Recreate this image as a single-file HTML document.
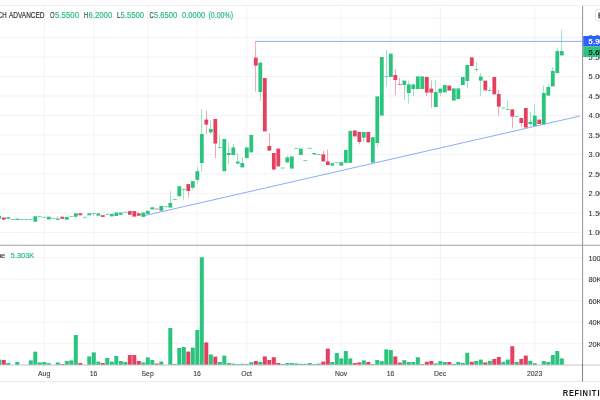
<!DOCTYPE html>
<html lang="en"><head><meta charset="utf-8"><title>Chart</title>
<style>html,body{margin:0;padding:0;background:#fff;overflow:hidden}svg{display:block}text{font-family:"Liberation Sans",Arial,sans-serif}</style>
</head><body>
<svg width="600" height="400" viewBox="0 0 600 400">
<defs><filter id="sb" x="-2%" y="-2%" width="104%" height="104%"><feGaussianBlur stdDeviation="0.32"/></filter></defs>
<rect width="600" height="400" fill="#fff"/>
<g stroke="#f3f3f5" stroke-width="1" fill="none">
<line x1="44.3" y1="6" x2="44.3" y2="365"/>
<line x1="93.8" y1="6" x2="93.8" y2="365"/>
<line x1="147.8" y1="6" x2="147.8" y2="365"/>
<line x1="197.3" y1="6" x2="197.3" y2="365"/>
<line x1="246.8" y1="6" x2="246.8" y2="365"/>
<line x1="341.3" y1="6" x2="341.3" y2="365"/>
<line x1="390.8" y1="6" x2="390.8" y2="365"/>
<line x1="440.3" y1="6" x2="440.3" y2="365"/>
<line x1="534.8" y1="6" x2="534.8" y2="365"/>
<line x1="0" y1="232.5" x2="582" y2="232.5"/>
<line x1="0" y1="213" x2="582" y2="213"/>
<line x1="0" y1="193.5" x2="582" y2="193.5"/>
<line x1="0" y1="174" x2="582" y2="174"/>
<line x1="0" y1="154.5" x2="582" y2="154.5"/>
<line x1="0" y1="135" x2="582" y2="135"/>
<line x1="0" y1="115.5" x2="582" y2="115.5"/>
<line x1="0" y1="96" x2="582" y2="96"/>
<line x1="0" y1="76.5" x2="582" y2="76.5"/>
<line x1="0" y1="57" x2="582" y2="57"/>
<line x1="0" y1="37.5" x2="582" y2="37.5"/>
<line x1="0" y1="18" x2="582" y2="18"/>
<line x1="0" y1="257.75" x2="582" y2="257.75"/>
<line x1="0" y1="279.2" x2="582" y2="279.2"/>
<line x1="0" y1="300.7" x2="582" y2="300.7"/>
<line x1="0" y1="322.2" x2="582" y2="322.2"/>
<line x1="0" y1="343.7" x2="582" y2="343.7"/>
</g>
<line x1="0" y1="5.5" x2="600" y2="5.5" stroke="#eceef1" stroke-width="1"/>
<g stroke="#7ea3f8" stroke-width="0.9" fill="none">
<line x1="255.8" y1="41.4" x2="583" y2="41.4"/>
<line x1="144.5" y1="215.6" x2="580" y2="116"/>
</g>
<g filter="url(#sb)">
<rect x="-2.7" y="359.6" width="4" height="5.4" fill="#2cc47e"/>
<rect x="1.8" y="360" width="4" height="5" fill="#e4405e"/>
<rect x="6.3" y="363" width="4" height="2" fill="#2cc47e"/>
<rect x="15.3" y="362" width="4" height="3" fill="#2cc47e"/>
<rect x="28.8" y="360.4" width="4" height="4.6" fill="#2cc47e"/>
<rect x="33.3" y="351.6" width="4" height="13.4" fill="#2cc47e"/>
<rect x="37.8" y="362.4" width="4" height="2.6" fill="#2cc47e"/>
<rect x="42.3" y="362" width="4" height="3" fill="#2cc47e"/>
<rect x="46.8" y="363.2" width="4" height="1.8" fill="#2cc47e"/>
<rect x="55.8" y="362.4" width="4" height="2.6" fill="#2cc47e"/>
<rect x="60.3" y="364" width="4" height="1" fill="#e4405e"/>
<rect x="64.8" y="361" width="4" height="4" fill="#2cc47e"/>
<rect x="69.3" y="360.4" width="4" height="4.6" fill="#2cc47e"/>
<rect x="73.8" y="335" width="4" height="30" fill="#2cc47e"/>
<rect x="78.3" y="363" width="4" height="2" fill="#e4405e"/>
<rect x="87.3" y="356.4" width="4" height="8.6" fill="#2cc47e"/>
<rect x="91.8" y="352.4" width="4" height="12.6" fill="#2cc47e"/>
<rect x="96.3" y="361.6" width="4" height="3.4" fill="#2cc47e"/>
<rect x="100.8" y="363" width="4" height="2" fill="#e4405e"/>
<rect x="105.3" y="358" width="4" height="7" fill="#2cc47e"/>
<rect x="109.8" y="361.6" width="4" height="3.4" fill="#2cc47e"/>
<rect x="114.3" y="356" width="4" height="9" fill="#2cc47e"/>
<rect x="118.8" y="361" width="4" height="4" fill="#2cc47e"/>
<rect x="123.3" y="362" width="4" height="3" fill="#2cc47e"/>
<rect x="127.8" y="355" width="4" height="10" fill="#e4405e"/>
<rect x="132.3" y="355" width="4" height="10" fill="#e4405e"/>
<rect x="136.8" y="361" width="4" height="4" fill="#e4405e"/>
<rect x="141.3" y="362.4" width="4" height="2.6" fill="#2cc47e"/>
<rect x="145.8" y="357.4" width="4" height="7.6" fill="#2cc47e"/>
<rect x="150.3" y="360" width="4" height="5" fill="#2cc47e"/>
<rect x="154.8" y="363.6" width="4" height="1.4" fill="#e4405e"/>
<rect x="159.3" y="361.6" width="4" height="3.4" fill="#2cc47e"/>
<rect x="168.3" y="328" width="4" height="37" fill="#2cc47e"/>
<rect x="172.8" y="364" width="4" height="1" fill="#2cc47e"/>
<rect x="177.3" y="348" width="4" height="17" fill="#2cc47e"/>
<rect x="181.8" y="347" width="4" height="18" fill="#2cc47e"/>
<rect x="186.3" y="351.6" width="4" height="13.4" fill="#e4405e"/>
<rect x="190.8" y="347.6" width="4" height="17.4" fill="#2cc47e"/>
<rect x="195.3" y="330" width="4" height="35" fill="#2cc47e"/>
<rect x="199.8" y="257.25" width="4" height="107.75" fill="#2cc47e"/>
<rect x="204.3" y="342.4" width="4" height="22.6" fill="#e4405e"/>
<rect x="208.8" y="354.4" width="4" height="10.6" fill="#2cc47e"/>
<rect x="213.3" y="356.6" width="4" height="8.4" fill="#e4405e"/>
<rect x="217.8" y="362" width="4" height="3" fill="#2cc47e"/>
<rect x="222.3" y="355.6" width="4" height="9.4" fill="#2cc47e"/>
<rect x="226.8" y="363" width="4" height="2" fill="#2cc47e"/>
<rect x="231.3" y="363.6" width="4" height="1.4" fill="#2cc47e"/>
<rect x="235.8" y="364" width="4" height="1" fill="#2cc47e"/>
<rect x="240.3" y="363.8" width="4" height="1.2" fill="#2cc47e"/>
<rect x="244.8" y="364" width="4" height="1" fill="#2cc47e"/>
<rect x="249.3" y="362.2" width="4" height="2.8" fill="#2cc47e"/>
<rect x="253.8" y="361" width="4" height="4" fill="#e4405e"/>
<rect x="258.3" y="362" width="4" height="3" fill="#2cc47e"/>
<rect x="262.8" y="356.4" width="4" height="8.6" fill="#e4405e"/>
<rect x="267.3" y="360" width="4" height="5" fill="#e4405e"/>
<rect x="271.8" y="357.2" width="4" height="7.8" fill="#e4405e"/>
<rect x="276.3" y="363" width="4" height="2" fill="#e4405e"/>
<rect x="280.8" y="364" width="4" height="1" fill="#2cc47e"/>
<rect x="285.3" y="363" width="4" height="2" fill="#2cc47e"/>
<rect x="289.8" y="363" width="4" height="2" fill="#2cc47e"/>
<rect x="294.3" y="363.4" width="4" height="1.6" fill="#2cc47e"/>
<rect x="298.8" y="363.8" width="4" height="1.2" fill="#2cc47e"/>
<rect x="303.3" y="363.8" width="4" height="1.2" fill="#2cc47e"/>
<rect x="307.8" y="363" width="4" height="2" fill="#2cc47e"/>
<rect x="312.3" y="364" width="4" height="1" fill="#2cc47e"/>
<rect x="316.8" y="363.6" width="4" height="1.4" fill="#2cc47e"/>
<rect x="321.3" y="361.6" width="4" height="3.4" fill="#e4405e"/>
<rect x="325.8" y="348.6" width="4" height="16.4" fill="#e4405e"/>
<rect x="330.3" y="362" width="4" height="3" fill="#2cc47e"/>
<rect x="334.8" y="353" width="4" height="12" fill="#2cc47e"/>
<rect x="339.3" y="358.4" width="4" height="6.6" fill="#2cc47e"/>
<rect x="343.8" y="351" width="4" height="14" fill="#2cc47e"/>
<rect x="348.3" y="358.4" width="4" height="6.6" fill="#2cc47e"/>
<rect x="352.8" y="363" width="4" height="2" fill="#e4405e"/>
<rect x="357.3" y="362.4" width="4" height="2.6" fill="#e4405e"/>
<rect x="361.8" y="360.4" width="4" height="4.6" fill="#2cc47e"/>
<rect x="366.3" y="362" width="4" height="3" fill="#e4405e"/>
<rect x="370.8" y="364" width="4" height="1" fill="#2cc47e"/>
<rect x="375.3" y="360" width="4" height="5" fill="#2cc47e"/>
<rect x="379.8" y="361.2" width="4" height="3.8" fill="#2cc47e"/>
<rect x="384.3" y="349.4" width="4" height="15.6" fill="#2cc47e"/>
<rect x="388.8" y="350" width="4" height="15" fill="#2cc47e"/>
<rect x="393.3" y="356.4" width="4" height="8.6" fill="#e4405e"/>
<rect x="397.8" y="362.6" width="4" height="2.4" fill="#e4405e"/>
<rect x="402.3" y="360.2" width="4" height="4.8" fill="#2cc47e"/>
<rect x="406.8" y="362" width="4" height="3" fill="#2cc47e"/>
<rect x="411.3" y="362" width="4" height="3" fill="#2cc47e"/>
<rect x="415.8" y="357.2" width="4" height="7.8" fill="#2cc47e"/>
<rect x="420.3" y="364" width="4" height="1" fill="#2cc47e"/>
<rect x="424.8" y="361.8" width="4" height="3.2" fill="#e4405e"/>
<rect x="429.3" y="361" width="4" height="4" fill="#e4405e"/>
<rect x="433.8" y="363.4" width="4" height="1.6" fill="#2cc47e"/>
<rect x="438.3" y="361.2" width="4" height="3.8" fill="#2cc47e"/>
<rect x="442.8" y="362" width="4" height="3" fill="#2cc47e"/>
<rect x="447.3" y="362" width="4" height="3" fill="#e4405e"/>
<rect x="451.8" y="363.8" width="4" height="1.2" fill="#2cc47e"/>
<rect x="456.3" y="362" width="4" height="3" fill="#2cc47e"/>
<rect x="460.8" y="363" width="4" height="2" fill="#2cc47e"/>
<rect x="465.3" y="352.8" width="4" height="12.2" fill="#2cc47e"/>
<rect x="469.8" y="361.8" width="4" height="3.2" fill="#e4405e"/>
<rect x="474.3" y="361" width="4" height="4" fill="#2cc47e"/>
<rect x="478.8" y="359.6" width="4" height="5.4" fill="#2cc47e"/>
<rect x="483.3" y="362.4" width="4" height="2.6" fill="#e4405e"/>
<rect x="487.8" y="360.8" width="4" height="4.2" fill="#2cc47e"/>
<rect x="492.3" y="359" width="4" height="6" fill="#e4405e"/>
<rect x="496.8" y="357" width="4" height="8" fill="#e4405e"/>
<rect x="501.3" y="361.8" width="4" height="3.2" fill="#2cc47e"/>
<rect x="505.8" y="359.6" width="4" height="5.4" fill="#2cc47e"/>
<rect x="510.3" y="346.2" width="4" height="18.8" fill="#e4405e"/>
<rect x="514.8" y="362" width="4" height="3" fill="#2cc47e"/>
<rect x="519.3" y="359" width="4" height="6" fill="#e4405e"/>
<rect x="523.8" y="355.6" width="4" height="9.4" fill="#e4405e"/>
<rect x="528.3" y="360.8" width="4" height="4.2" fill="#2cc47e"/>
<rect x="532.8" y="363.2" width="4" height="1.8" fill="#2cc47e"/>
<rect x="541.8" y="361" width="4" height="4" fill="#2cc47e"/>
<rect x="546.3" y="362" width="4" height="3" fill="#2cc47e"/>
<rect x="550.8" y="355" width="4" height="10" fill="#2cc47e"/>
<rect x="555.3" y="351" width="4" height="14" fill="#2cc47e"/>
<rect x="559.8" y="358.4" width="4" height="6.6" fill="#2cc47e"/>
</g>
<g filter="url(#sb)">
<rect x="-2.6" y="215.8" width="3.8" height="2.9" fill="#2cc47e"/>
<rect x="1.9" y="217.5" width="3.8" height="2.2" fill="#e4405e"/>
<rect x="6.4" y="217.2" width="3.8" height="1.6" fill="#2cc47e"/>
<rect x="10.9" y="219.15" width="3.8" height="0.7" fill="#2cc47e"/>
<rect x="15.4" y="218.7" width="3.8" height="1.3" fill="#2cc47e"/>
<rect x="19.9" y="219.15" width="3.8" height="0.7" fill="#2cc47e"/>
<rect x="24.4" y="219.15" width="3.8" height="0.7" fill="#2cc47e"/>
<rect x="28.9" y="219.15" width="3.8" height="0.7" fill="#2cc47e"/>
<rect x="33.4" y="216.2" width="3.8" height="5.5" fill="#2cc47e"/>
<rect x="37.9" y="215.95" width="3.8" height="0.7" fill="#2cc47e"/>
<rect x="42.4" y="216.85" width="3.8" height="0.7" fill="#2cc47e"/>
<rect x="46.9" y="216.7" width="3.8" height="2.8" fill="#2cc47e"/>
<rect x="51.4" y="218.35" width="3.8" height="0.7" fill="#2cc47e"/>
<rect x="57.57" y="216.3" width="0.46" height="3.5" fill="#2cc47e"/>
<rect x="55.9" y="218.5" width="3.8" height="1.3" fill="#2cc47e"/>
<rect x="60.4" y="216.7" width="3.8" height="2.1" fill="#e4405e"/>
<rect x="64.9" y="217" width="3.8" height="2.7" fill="#2cc47e"/>
<rect x="69.4" y="215.95" width="3.8" height="0.7" fill="#2cc47e"/>
<rect x="75.57" y="213.3" width="0.46" height="4.3" fill="#2cc47e"/>
<rect x="73.9" y="213.3" width="3.8" height="3.4" fill="#2cc47e"/>
<rect x="78.4" y="213.3" width="3.8" height="2" fill="#e4405e"/>
<rect x="82.9" y="216.85" width="3.8" height="0.7" fill="#2cc47e"/>
<rect x="87.4" y="213.3" width="3.8" height="2" fill="#2cc47e"/>
<rect x="93.57" y="213.15" width="0.46" height="2.65" fill="#2cc47e"/>
<rect x="91.9" y="213.15" width="3.8" height="0.7" fill="#2cc47e"/>
<rect x="96.4" y="213.4" width="3.8" height="2.3" fill="#2cc47e"/>
<rect x="100.9" y="215.2" width="3.8" height="1.7" fill="#e4405e"/>
<rect x="105.4" y="213.95" width="3.8" height="0.7" fill="#2cc47e"/>
<rect x="109.9" y="213.9" width="3.8" height="2.5" fill="#2cc47e"/>
<rect x="114.4" y="212.5" width="3.8" height="3.5" fill="#2cc47e"/>
<rect x="118.9" y="212.5" width="3.8" height="2.3" fill="#2cc47e"/>
<rect x="123.4" y="211.85" width="3.8" height="0.7" fill="#2cc47e"/>
<rect x="127.9" y="211.1" width="3.8" height="3.7" fill="#e4405e"/>
<rect x="132.4" y="211.1" width="3.8" height="5.5" fill="#e4405e"/>
<rect x="138.57" y="212.2" width="0.46" height="3.5" fill="#e4405e"/>
<rect x="136.9" y="213.4" width="3.8" height="2.3" fill="#e4405e"/>
<rect x="141.4" y="212.5" width="3.8" height="4.4" fill="#2cc47e"/>
<rect x="145.9" y="210.8" width="3.8" height="3.1" fill="#2cc47e"/>
<rect x="150.4" y="207.3" width="3.8" height="2.1" fill="#2cc47e"/>
<rect x="154.9" y="208.65" width="3.8" height="0.7" fill="#e4405e"/>
<rect x="159.4" y="205.9" width="3.8" height="4.9" fill="#2cc47e"/>
<rect x="163.9" y="206.45" width="3.8" height="0.7" fill="#2cc47e"/>
<rect x="170.07" y="191.1" width="0.46" height="16.5" fill="#2cc47e"/>
<rect x="168.4" y="202.9" width="3.8" height="4.7" fill="#2cc47e"/>
<rect x="172.9" y="199.05" width="3.8" height="0.7" fill="#2cc47e"/>
<rect x="177.4" y="186.2" width="3.8" height="10.1" fill="#2cc47e"/>
<rect x="183.57" y="188.95" width="0.46" height="11.35" fill="#2cc47e"/>
<rect x="181.9" y="188.95" width="3.8" height="0.7" fill="#2cc47e"/>
<rect x="188.07" y="184.1" width="0.46" height="13.5" fill="#e4405e"/>
<rect x="186.4" y="184.1" width="3.8" height="6.9" fill="#e4405e"/>
<rect x="192.57" y="181.1" width="0.46" height="8.7" fill="#2cc47e"/>
<rect x="190.9" y="181.1" width="3.8" height="6.6" fill="#2cc47e"/>
<rect x="197.07" y="167" width="0.46" height="16.8" fill="#2cc47e"/>
<rect x="195.4" y="171.2" width="3.8" height="8.6" fill="#2cc47e"/>
<rect x="201.57" y="109" width="0.46" height="62.5" fill="#2cc47e"/>
<rect x="199.9" y="134" width="3.8" height="29" fill="#2cc47e"/>
<rect x="206.07" y="111" width="0.46" height="23" fill="#e4405e"/>
<rect x="204.4" y="119.6" width="3.8" height="5" fill="#e4405e"/>
<rect x="210.57" y="120" width="0.46" height="14" fill="#2cc47e"/>
<rect x="208.9" y="129" width="3.8" height="3.4" fill="#2cc47e"/>
<rect x="215.07" y="119" width="0.46" height="39" fill="#e4405e"/>
<rect x="213.4" y="119" width="3.8" height="24.6" fill="#e4405e"/>
<rect x="219.57" y="135" width="0.46" height="12.75" fill="#2cc47e"/>
<rect x="217.9" y="147.05" width="3.8" height="0.7" fill="#2cc47e"/>
<rect x="222.4" y="139" width="3.8" height="32.3" fill="#2cc47e"/>
<rect x="228.57" y="143" width="0.46" height="21" fill="#2cc47e"/>
<rect x="226.9" y="153" width="3.8" height="2" fill="#2cc47e"/>
<rect x="233.07" y="144.4" width="0.46" height="10.6" fill="#2cc47e"/>
<rect x="231.4" y="147.4" width="3.8" height="7.6" fill="#2cc47e"/>
<rect x="237.57" y="153" width="0.46" height="10.6" fill="#2cc47e"/>
<rect x="235.9" y="161.6" width="3.8" height="2" fill="#2cc47e"/>
<rect x="242.07" y="157" width="0.46" height="10.4" fill="#2cc47e"/>
<rect x="240.4" y="163" width="3.8" height="4.4" fill="#2cc47e"/>
<rect x="244.9" y="147.4" width="3.8" height="10.6" fill="#2cc47e"/>
<rect x="249.4" y="135" width="3.8" height="17.4" fill="#2cc47e"/>
<rect x="255.57" y="41" width="0.46" height="50.6" fill="#e4405e"/>
<rect x="253.9" y="57.6" width="3.8" height="8" fill="#e4405e"/>
<rect x="260.07" y="62.6" width="0.46" height="38.4" fill="#2cc47e"/>
<rect x="258.4" y="62.6" width="3.8" height="29.4" fill="#2cc47e"/>
<rect x="262.9" y="78" width="3.8" height="53.4" fill="#e4405e"/>
<rect x="269.07" y="133" width="0.46" height="17.6" fill="#e4405e"/>
<rect x="267.4" y="146" width="3.8" height="4.6" fill="#e4405e"/>
<rect x="271.9" y="153" width="3.8" height="16.6" fill="#e4405e"/>
<rect x="276.4" y="148.6" width="3.8" height="17.8" fill="#e4405e"/>
<rect x="280.9" y="167.65" width="3.8" height="0.7" fill="#2cc47e"/>
<rect x="287.07" y="155.6" width="0.46" height="6.8" fill="#2cc47e"/>
<rect x="285.4" y="157.4" width="3.8" height="5" fill="#2cc47e"/>
<rect x="289.9" y="156.4" width="3.8" height="12.2" fill="#2cc47e"/>
<rect x="294.4" y="148.05" width="3.8" height="0.7" fill="#2cc47e"/>
<rect x="298.9" y="148.6" width="3.8" height="6.4" fill="#2cc47e"/>
<rect x="303.4" y="160.25" width="3.8" height="0.7" fill="#2cc47e"/>
<rect x="307.9" y="147.85" width="3.8" height="0.7" fill="#2cc47e"/>
<rect x="312.4" y="153" width="3.8" height="1.4" fill="#2cc47e"/>
<rect x="316.9" y="154.05" width="3.8" height="0.7" fill="#2cc47e"/>
<rect x="323.07" y="151" width="0.46" height="10.4" fill="#e4405e"/>
<rect x="321.4" y="154.4" width="3.8" height="7" fill="#e4405e"/>
<rect x="327.57" y="149.6" width="0.46" height="15.4" fill="#e4405e"/>
<rect x="325.9" y="161.4" width="3.8" height="3.6" fill="#e4405e"/>
<rect x="330.4" y="163.2" width="3.8" height="2.4" fill="#2cc47e"/>
<rect x="334.9" y="162.45" width="3.8" height="0.7" fill="#2cc47e"/>
<rect x="339.4" y="162.2" width="3.8" height="3.4" fill="#2cc47e"/>
<rect x="343.9" y="150" width="3.8" height="12.8" fill="#2cc47e"/>
<rect x="350.07" y="130" width="0.46" height="32.8" fill="#2cc47e"/>
<rect x="348.4" y="131" width="3.8" height="31.8" fill="#2cc47e"/>
<rect x="352.9" y="130.4" width="3.8" height="6" fill="#e4405e"/>
<rect x="359.07" y="132" width="0.46" height="12.4" fill="#e4405e"/>
<rect x="357.4" y="132" width="3.8" height="10" fill="#e4405e"/>
<rect x="363.57" y="132" width="0.46" height="10" fill="#2cc47e"/>
<rect x="361.9" y="132" width="3.8" height="5.6" fill="#2cc47e"/>
<rect x="366.4" y="132" width="3.8" height="10.4" fill="#e4405e"/>
<rect x="370.9" y="137.2" width="3.8" height="25.4" fill="#2cc47e"/>
<rect x="377.07" y="96.4" width="0.46" height="50.2" fill="#2cc47e"/>
<rect x="375.4" y="96.4" width="3.8" height="46.6" fill="#2cc47e"/>
<rect x="379.9" y="57" width="3.8" height="58.6" fill="#2cc47e"/>
<rect x="386.07" y="50" width="0.46" height="36.4" fill="#2cc47e"/>
<rect x="384.4" y="76.05" width="3.8" height="0.7" fill="#2cc47e"/>
<rect x="388.9" y="53.6" width="3.8" height="23.4" fill="#2cc47e"/>
<rect x="395.07" y="69" width="0.46" height="26" fill="#e4405e"/>
<rect x="393.4" y="75" width="3.8" height="5" fill="#e4405e"/>
<rect x="399.57" y="78" width="0.46" height="6.75" fill="#e4405e"/>
<rect x="397.9" y="84.05" width="3.8" height="0.7" fill="#e4405e"/>
<rect x="404.07" y="80.6" width="0.46" height="19.4" fill="#2cc47e"/>
<rect x="402.4" y="80.6" width="3.8" height="4.4" fill="#2cc47e"/>
<rect x="408.57" y="80.6" width="0.46" height="23" fill="#2cc47e"/>
<rect x="406.9" y="84.4" width="3.8" height="8.6" fill="#2cc47e"/>
<rect x="413.07" y="84.4" width="0.46" height="11.6" fill="#2cc47e"/>
<rect x="411.4" y="84.4" width="3.8" height="4.6" fill="#2cc47e"/>
<rect x="415.9" y="76.4" width="3.8" height="12.6" fill="#2cc47e"/>
<rect x="420.4" y="76.4" width="3.8" height="12.6" fill="#2cc47e"/>
<rect x="426.57" y="77" width="0.46" height="19" fill="#e4405e"/>
<rect x="424.9" y="77" width="3.8" height="15.6" fill="#e4405e"/>
<rect x="431.07" y="80.4" width="0.46" height="27.2" fill="#e4405e"/>
<rect x="429.4" y="88.6" width="3.8" height="4" fill="#e4405e"/>
<rect x="435.57" y="80.4" width="0.46" height="26.6" fill="#2cc47e"/>
<rect x="433.9" y="92" width="3.8" height="15" fill="#2cc47e"/>
<rect x="440.07" y="88.6" width="0.46" height="7.8" fill="#2cc47e"/>
<rect x="438.4" y="88.6" width="3.8" height="4" fill="#2cc47e"/>
<rect x="442.9" y="85" width="3.8" height="7.4" fill="#2cc47e"/>
<rect x="447.4" y="85.6" width="3.8" height="5" fill="#e4405e"/>
<rect x="451.9" y="88.4" width="3.8" height="12.2" fill="#2cc47e"/>
<rect x="456.4" y="88.4" width="3.8" height="10.6" fill="#2cc47e"/>
<rect x="460.9" y="77" width="3.8" height="8" fill="#2cc47e"/>
<rect x="467.07" y="65" width="0.46" height="23.4" fill="#2cc47e"/>
<rect x="465.4" y="65" width="3.8" height="16" fill="#2cc47e"/>
<rect x="469.9" y="57.4" width="3.8" height="8.6" fill="#e4405e"/>
<rect x="476.07" y="62" width="0.46" height="9.6" fill="#2cc47e"/>
<rect x="474.4" y="69.05" width="3.8" height="0.7" fill="#2cc47e"/>
<rect x="480.57" y="73" width="0.46" height="23" fill="#2cc47e"/>
<rect x="478.9" y="76.6" width="3.8" height="4" fill="#2cc47e"/>
<rect x="483.4" y="80.6" width="3.8" height="9.8" fill="#e4405e"/>
<rect x="489.57" y="87" width="0.46" height="3.75" fill="#2cc47e"/>
<rect x="487.9" y="90.05" width="3.8" height="0.7" fill="#2cc47e"/>
<rect x="492.4" y="77" width="3.8" height="17.4" fill="#e4405e"/>
<rect x="498.57" y="90" width="0.46" height="25.6" fill="#e4405e"/>
<rect x="496.9" y="94" width="3.8" height="12.6" fill="#e4405e"/>
<rect x="501.4" y="107.65" width="3.8" height="0.7" fill="#2cc47e"/>
<rect x="507.57" y="100.4" width="0.46" height="9.35" fill="#2cc47e"/>
<rect x="505.9" y="109.05" width="3.8" height="0.7" fill="#2cc47e"/>
<rect x="512.07" y="109.4" width="0.46" height="19" fill="#e4405e"/>
<rect x="510.4" y="109.4" width="3.8" height="7.2" fill="#e4405e"/>
<rect x="514.9" y="116.05" width="3.8" height="0.7" fill="#2cc47e"/>
<rect x="521.07" y="118" width="0.46" height="9" fill="#e4405e"/>
<rect x="519.4" y="118" width="3.8" height="5" fill="#e4405e"/>
<rect x="523.9" y="108" width="3.8" height="19.6" fill="#e4405e"/>
<rect x="530.07" y="112" width="0.46" height="14" fill="#2cc47e"/>
<rect x="528.4" y="122" width="3.8" height="2" fill="#2cc47e"/>
<rect x="534.57" y="104" width="0.46" height="22" fill="#2cc47e"/>
<rect x="532.9" y="115.6" width="3.8" height="10.4" fill="#2cc47e"/>
<rect x="537.4" y="119.6" width="3.8" height="4.4" fill="#e4405e"/>
<rect x="543.57" y="85.3" width="0.46" height="38.7" fill="#2cc47e"/>
<rect x="541.9" y="93" width="3.8" height="31" fill="#2cc47e"/>
<rect x="548.07" y="84.4" width="0.46" height="11.2" fill="#2cc47e"/>
<rect x="546.4" y="87" width="3.8" height="8.6" fill="#2cc47e"/>
<rect x="552.57" y="67" width="0.46" height="19.4" fill="#2cc47e"/>
<rect x="550.9" y="71" width="3.8" height="15.4" fill="#2cc47e"/>
<rect x="557.07" y="47.5" width="0.46" height="25.5" fill="#2cc47e"/>
<rect x="555.4" y="51.1" width="3.8" height="21.9" fill="#2cc47e"/>
<rect x="561.57" y="29.6" width="0.46" height="25.8" fill="#2cc47e"/>
<rect x="559.9" y="51.1" width="3.8" height="4.3" fill="#2cc47e"/>
</g>
<line x1="0" y1="245.15" x2="600" y2="245.15" stroke="#a2a2a5" stroke-width="1.05"/>
<line x1="0" y1="365" x2="600" y2="365" stroke="#c6c6c9" stroke-width="1"/>
<line x1="0" y1="381.6" x2="600" y2="381.6" stroke="#ebebee" stroke-width="1"/>
<line x1="582.55" y1="6" x2="582.55" y2="365" stroke="#9d9da0" stroke-width="1.1"/>
<line x1="582.55" y1="364.5" x2="582.55" y2="381.6" stroke="#6e6e72" stroke-width="0.9"/>
<g font-size="7.4" fill="#333336" stroke="#333336" stroke-width="0.1">
<text x="588.6 592.9 595.3 599.25" y="235.3">1.00</text>
<text x="588.6 592.9 595.3 599.25" y="215.8">1.50</text>
<text x="588.6 592.9 595.3 599.25" y="196.3">2.00</text>
<text x="588.6 592.9 595.3 599.25" y="176.8">2.50</text>
<text x="588.6 592.9 595.3 599.25" y="157.3">3.00</text>
<text x="588.6 592.9 595.3 599.25" y="137.8">3.50</text>
<text x="588.6 592.9 595.3 599.25" y="118.3">4.00</text>
<text x="588.6 592.9 595.3 599.25" y="98.8">4.50</text>
<text x="588.6 592.9 595.3 599.25" y="79.3">5.00</text>
<text x="588.6 592.9 595.3 599.25" y="59.8">5.50</text>
<text x="588.6 592.9 595.3 599.25" y="40.3">6.00</text>
<text x="588.5 592.45 596.4 600.35" y="260.55">100K</text>
<text x="588.5 592.45 596.4" y="282">80K</text>
<text x="588.5 592.45 596.4" y="303.5">60K</text>
<text x="588.5 592.45 596.4" y="325">40K</text>
<text x="588.5 592.45 596.4" y="346.5">20K</text>
</g>
<rect x="583.2" y="36" width="17" height="10.5" fill="#2962ff"/>
<rect x="583.2" y="46.5" width="17" height="10.5" fill="#2dc27f"/>
<text x="588.6 592.9 595.3 599.25" y="44" font-size="7.4" fill="#fff" stroke="#fff" stroke-width="0.25">5.90</text>
<text x="588.6 592.9 595.3 599.25" y="54.5" font-size="7.4" fill="#111" stroke="#111" stroke-width="0.2">5.65</text>
<rect x="595.5" y="9.5" width="12" height="11.5" rx="2" fill="#fff" stroke="#e0e3e8" stroke-width="1"/>
<text x="598" y="18" font-size="7.8" fill="#343438" stroke="#343438" stroke-width="0.3">B</text>
<g font-size="8.5">
<text x="-2.2" y="18.1" textLength="8.8" lengthAdjust="spacingAndGlyphs" fill="#343438" stroke="#343438" stroke-width="0.2">CH</text>
<text x="9" y="18.1" textLength="35.5" lengthAdjust="spacingAndGlyphs" fill="#343438" stroke="#343438" stroke-width="0.2">ADVANCED</text>
<text x="50" y="18.1" textLength="4.6" lengthAdjust="spacingAndGlyphs" fill="#48484c" stroke="#48484c" stroke-width="0.2">O</text>
<text x="55" y="18.1" textLength="24" lengthAdjust="spacingAndGlyphs" fill="#2dbd80" stroke="#2dbd80" stroke-width="0.2">5.5500</text>
<text x="84" y="18.1" textLength="4.2" lengthAdjust="spacingAndGlyphs" fill="#48484c" stroke="#48484c" stroke-width="0.2">H</text>
<text x="88.6" y="18.1" textLength="23.6" lengthAdjust="spacingAndGlyphs" fill="#2dbd80" stroke="#2dbd80" stroke-width="0.2">6.2000</text>
<text x="117" y="18.1" textLength="3.4" lengthAdjust="spacingAndGlyphs" fill="#48484c" stroke="#48484c" stroke-width="0.2">L</text>
<text x="120.6" y="18.1" textLength="23.4" lengthAdjust="spacingAndGlyphs" fill="#2dbd80" stroke="#2dbd80" stroke-width="0.2">5.5500</text>
<text x="149.6" y="18.1" textLength="4.2" lengthAdjust="spacingAndGlyphs" fill="#48484c" stroke="#48484c" stroke-width="0.2">C</text>
<text x="154" y="18.1" textLength="23.2" lengthAdjust="spacingAndGlyphs" fill="#2dbd80" stroke="#2dbd80" stroke-width="0.2">5.6500</text>
<text x="182" y="18.1" textLength="23.2" lengthAdjust="spacingAndGlyphs" fill="#2dbd80" stroke="#2dbd80" stroke-width="0.2">0.0000</text>
<text x="208.5" y="18.1" textLength="24.5" lengthAdjust="spacingAndGlyphs" fill="#2dbd80" stroke="#2dbd80" stroke-width="0.2">(0.00%)</text>
</g>
<g font-size="8.1">
<text x="-19.4" y="257.6" textLength="24.6" lengthAdjust="spacingAndGlyphs" fill="#343438" stroke="#343438" stroke-width="0.2">Volume</text>
<text x="10.8" y="257.6" textLength="23.4" lengthAdjust="spacingAndGlyphs" fill="#2dbd80" stroke="#2dbd80" stroke-width="0.2">5.303K</text>
</g>
<g font-size="7.6" fill="#3a3a3e" stroke="#3a3a3e" stroke-width="0.12" text-anchor="middle">
<text transform="translate(44.1,376.3) scale(0.9,1)">Aug</text>
<text transform="translate(93.6,376.3) scale(0.9,1)">16</text>
<text transform="translate(147.6,376.3) scale(0.9,1)">Sep</text>
<text transform="translate(197.1,376.3) scale(0.9,1)">16</text>
<text transform="translate(246.6,376.3) scale(0.9,1)">Oct</text>
<text transform="translate(341.1,376.3) scale(0.9,1)">Nov</text>
<text transform="translate(390.6,376.3) scale(0.9,1)">16</text>
<text transform="translate(440.1,376.3) scale(0.9,1)">Dec</text>
<text transform="translate(534.6,376.3) scale(0.9,1)">2023</text>
</g>
<text transform="scale(0.92,1)" x="611.74 618.48 624.57 630.16 633.26 640.27 643.26 649.40 652.83" y="396.1" font-size="8.2" font-weight="bold" fill="#1c1c1f">REFINITIV</text>
</svg>
</body></html>
